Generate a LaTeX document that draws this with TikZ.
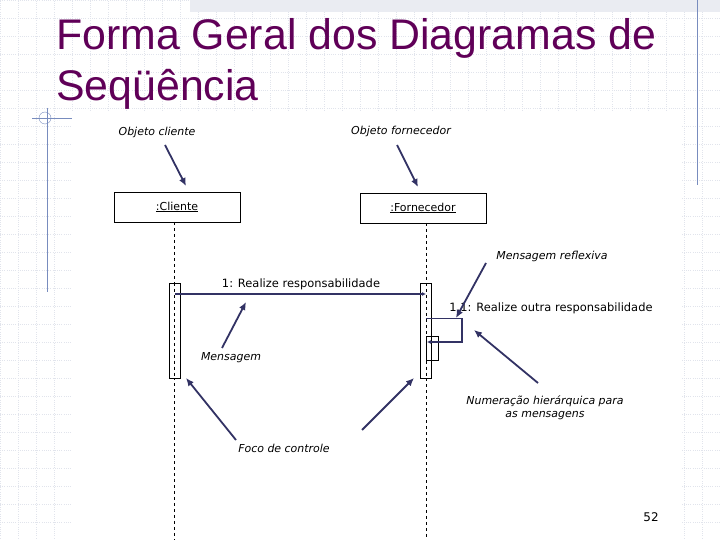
\documentclass[tikz,border=0pt]{standalone}
\usepackage{fontspec}
\setmainfont{DejaVu Sans}
\newfontfamily\titlefont{Liberation Sans}
\usetikzlibrary{arrows.meta,positioning}
\definecolor{titlepurple}{RGB}{96,0,88}
\definecolor{navy}{RGB}{50,50,100}
\definecolor{gridgray}{RGB}{225,228,236}
\definecolor{rulerblue}{RGB}{120,140,190}
\begin{document}
\begin{tikzpicture}[x=1bp,y=-1bp,font=\fontsize{11}{13}\selectfont]
  %----- styles
  \tikzset{
    obj/.style    ={draw,thin,minimum width=126bp,minimum height=30bp,inner sep=0pt},
    act/.style    ={draw,thin,minimum width=11bp,minimum height=95bp,inner sep=0pt},
    note/.style   ={font=\fontsize{11}{13}\selectfont\itshape,align=center},
    msg/.style    ={font=\fontsize{11.5}{13}\selectfont},
    pointer/.style={-{Latex[length=8pt,width=7pt]},navy,line width=1.8pt},
    call/.style   ={-{Latex[length=4pt,width=4pt]},navy,line width=1.4pt},
    life/.style   ={dashed,thin}
  }
  \useasboundingbox (0,0) rectangle (720,540);

  %----- background
  \draw[gridgray,very thin,dotted,step=18bp] (0,0) grid (720,540);
  \fill[white] (72,112) rectangle (682,540);
  \fill[gridgray!70] (190,0) rectangle (720,12);
  \draw[rulerblue,thick] (697,0) -- (697,185);
  \draw[rulerblue,thick] (47,108) -- (47,292);
  \draw[rulerblue] (32,118) -- (72,118);
  \draw[rulerblue] (45,118) circle (6);

  %----- title
  \node[anchor=base west,text=titlepurple,inner sep=0pt,
        font=\titlefont\fontsize{43}{50}\selectfont] (title) at (56,50)
        {Forma Geral dos Diagramas de};
  \node[anchor=base west,text=titlepurple,inner sep=0pt,
        font=\titlefont\fontsize{43}{50}\selectfont] (title2) at (56,101) {Seqüência};

  %----- objects and lifelines
  \node[obj] (cli)  at (177,207) {\underline{:Cliente}};
  \node[obj] (forn) at (423,208) {\underline{:Fornecedor}};
  \coordinate (cliend)  at (174,540);
  \coordinate (fornend) at (426,540);
  \draw[life] (174,222) -- (cliend);
  \draw[life] (426,223) -- (fornend);

  % activations
  \node[act,fill=white] (acli)  at (174.5,330.5) {};
  \node[act,fill=white] (aforn) at (426,330.5) {};
  \node[draw,thin,minimum width=12bp,minimum height=24bp,inner sep=0pt] (aself) at (432,348) {};
  \draw[life] (426,283) -- (426,378);
  \draw[life] (174,283) -- (174,378);

  %----- messages
  \coordinate (m1s) at (175,294);
  \coordinate (m1e) at (426,294);
  \draw[call] (m1s) -- (m1e);
  \node[msg] (m1) at (301,284) {1: Realize responsabilidade};
  \coordinate (s1) at (426,318);
  \coordinate (s2) at (462,318);
  \coordinate (s3) at (462,342);
  \coordinate (s4) at (427,342);
  \draw[navy,thin] (s1) -- (s2);
  \draw[call] (s2) -- (s3) -- (s4);
  \node[msg] (m11) at (551,308) {1.1: Realize outra responsabilidade};

  %----- notes
  \node[note] (ncli)  at (157,132) {Objeto cliente};
  \node[note] (nforn) at (401,131) {Objeto fornecedor};
  \node[note] (nrefl) at (552,256) {Mensagem reflexiva};
  \node[note] (nmsg)  at (231,358) {Mensagem};
  \node[note] (nnum)  at (545,408) {Numeração hierárquica para\\as mensagens};
  \node[note] (nfoco) at (284,448) {Foco de controle};
  \node[font=\fontsize{12}{14}\selectfont] (page) at (651,517) {52};

  %----- pointers
  \draw[pointer] (165,145) -- (186,186);
  \draw[pointer] (397,145) -- (418,187);
  \draw[pointer] (486,263) -- (456,318);
  \draw[pointer] (222,348) -- (246,302);
  \draw[pointer] (538,383) -- (474,330);
  \draw[pointer] (236,440) -- (186,378);
  \draw[pointer] (362,430) -- (414,378);
\end{tikzpicture}
\end{document}
